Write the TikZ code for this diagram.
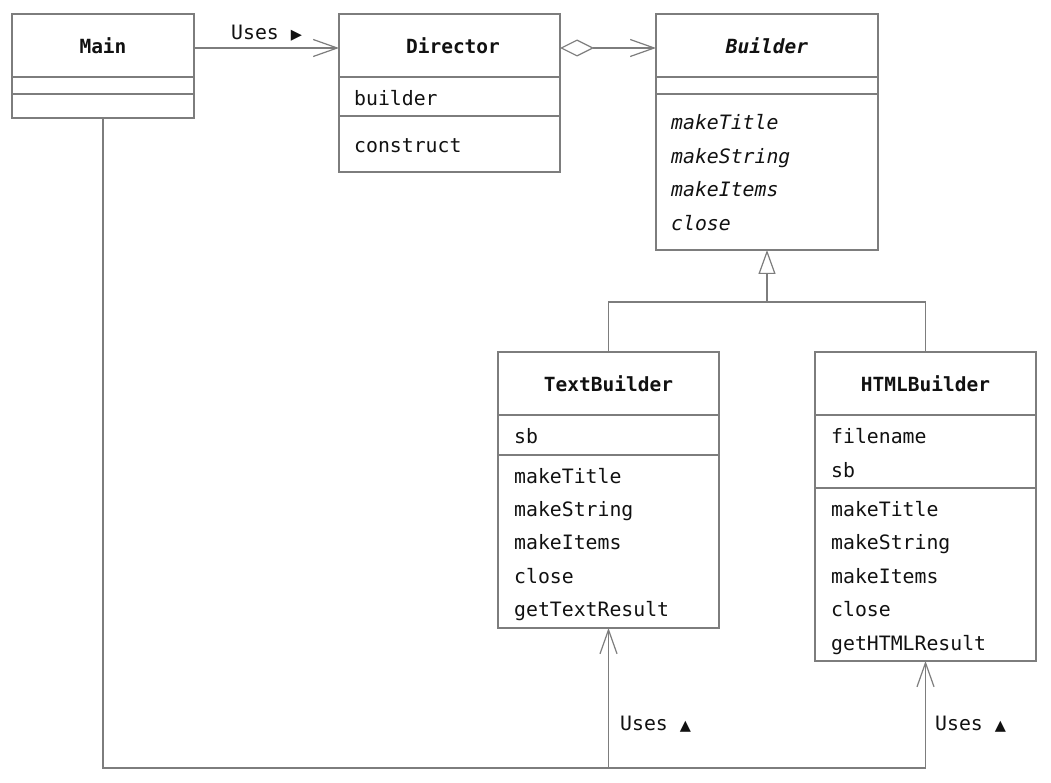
\documentclass[tikz,border=0pt]{standalone}
\usepackage{fontspec}
\setmonofont{DejaVu Sans Mono}
\newfontfamily\symfont{DejaVu Sans}
\usetikzlibrary{arrows.meta}
\definecolor{linegray}{HTML}{7d7d7d}
\definecolor{txt}{HTML}{111111}
\tikzset{
  line/.style={draw=linegray, line width=1.3pt},
  cls/.style={line, rectangle, inner sep=0pt, outer sep=0pt, fill=white},
  ttl/.style={anchor=base, inner sep=0pt, text=txt, font=\ttfamily\bfseries\fontsize{19.5}{20}\selectfont},
  itm/.style={anchor=base west, inner sep=0pt, text=txt, font=\ttfamily\fontsize{19.8}{20}\selectfont},
  abs/.style={itm, font=\ttfamily\itshape\fontsize{19.8}{20}\selectfont},
  lbl/.style={itm},
  uses/.style={line, -{Straight Barb[length=24pt,width=17pt,line width=1.2pt]}},
  agg/.style={line, {Diamond[open,length=34pt,width=17pt,line width=1.2pt]}-{Straight Barb[length=24pt,width=17pt,line width=1.2pt]}},
  inh/.style={line, -{Triangle[open,length=24pt,width=17pt,line width=1.2pt]}},
}
\newcommand{\sym}[1]{{\symfont\fontsize{14.5}{14.5}\selectfont #1}}
\begin{document}
\begin{tikzpicture}[x=1pt,y=-1pt]
\useasboundingbox[fill=white] (0,0) rectangle (1051,783);

% ---- class boxes
\node[cls, minimum width=182pt, minimum height=104pt] (main) at (103,66) {};
\node[cls, minimum width=221pt, minimum height=158pt] (director) at (449.5,93) {};
\node[cls, minimum width=222pt, minimum height=236pt] (builder) at (767,132) {};
\node[cls, minimum width=221pt, minimum height=276pt] (textb) at (608.5,490) {};
\node[cls, minimum width=221pt, minimum height=309pt] (htmlb) at (925.5,506.5) {};

% ---- compartments
\draw[line] (12,77) -- (194,77);
\draw[line] (12,94) -- (194,94);
\draw[line] (339,77) -- (560,77);
\draw[line] (339,116) -- (560,116);
\draw[line] (656,77) -- (878,77);
\draw[line] (656,94) -- (878,94);
\draw[line] (498,415) -- (719,415);
\draw[line] (498,455) -- (719,455);
\draw[line] (815,415) -- (1036,415);
\draw[line] (815,488) -- (1036,488);

% ---- texts
\node[ttl] (t-main) at (103,53.5) {Main};
\node[ttl] (t-dir) at (453,53.5) {Director};
\node[ttl, font=\ttfamily\bfseries\itshape\fontsize{19.5}{20}\selectfont] (t-bld) at (767,53.5) {Builder};
\node[ttl] (t-txt) at (608.5,391) {TextBuilder};
\node[ttl] (t-html) at (925.5,391) {HTMLBuilder};

\node[itm] (d1) at (354,106) {builder};
\node[itm] (d2) at (354,153) {construct};

\node[abs] (b1) at (671,130) {makeTitle};
\node[abs] (b2) at (671,164) {makeString};
\node[abs] (b3) at (671,197) {makeItems};
\node[abs] (b4) at (671,230.5) {close};

\node[itm] (x0) at (514,443.5) {sb};
\node[itm] (x1) at (514,483) {makeTitle};
\node[itm] (x2) at (514,516) {makeString};
\node[itm] (x3) at (514,549.5) {makeItems};
\node[itm] (x4) at (514,583) {close};
\node[itm] (x5) at (514,616) {getTextResult};

\node[itm] (h0) at (831,443.5) {filename};
\node[itm] (h00) at (831,477) {sb};
\node[itm] (h1) at (831,516) {makeTitle};
\node[itm] (h2) at (831,549.5) {makeString};
\node[itm] (h3) at (831,583) {makeItems};
\node[itm] (h4) at (831,616.5) {close};
\node[itm] (h5) at (831,650) {getHTMLResult};

% ---- connectors
\coordinate (r1) at (0,48);
\coordinate (j) at (767,302);
\coordinate (bot) at (0,768);

\draw[uses] (main.east |- r1) -- (director.west |- r1);
\draw[agg] (director.east |- r1) -- (builder.west |- r1);

\draw[inh] (j) -- (builder.south);
\draw[line] (textb.north) |- (htmlb.north |- j) -- (htmlb.north);

\draw[uses] (main.south) |- (htmlb.south |- bot) -- (htmlb.south);
\draw[uses] (textb.south |- bot) -- (textb.south);

% ---- labels
\node[lbl] (l1) at (231,39.5) {Uses \sym{▶}};
\node[lbl] (l2) at (620,730) {Uses \sym{▲}};
\node[lbl] (l3) at (935,730) {Uses \sym{▲}};
\end{tikzpicture}
\end{document}
